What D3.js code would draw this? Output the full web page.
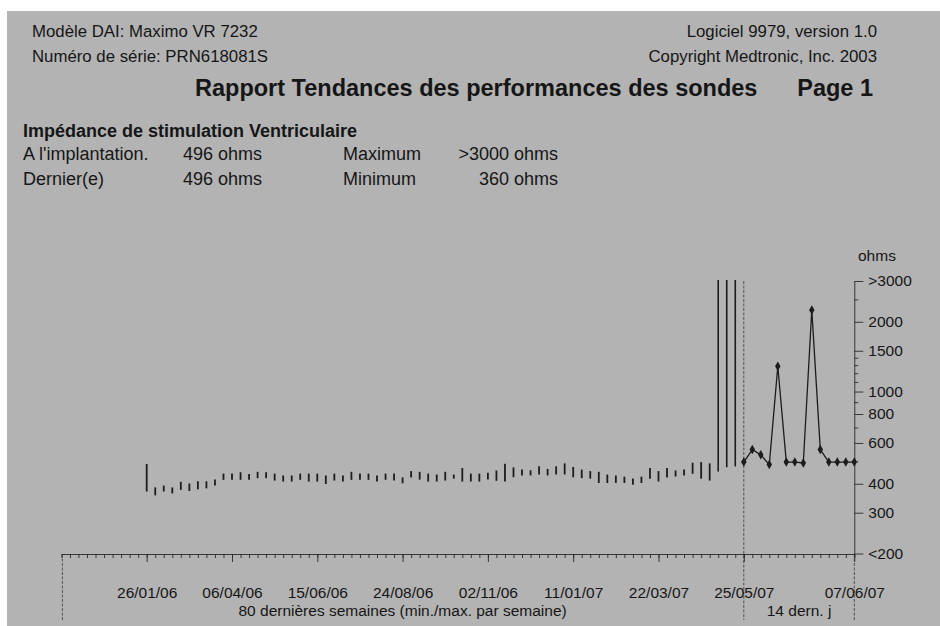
<!DOCTYPE html>
<html>
<head>
<meta charset="UTF-8">
<title>Rapport Tendances des performances des sondes</title>
<script src="https://cdn.jsdelivr.net/npm/d3@7"></script>
<style>
* { margin: 0; padding: 0; }
body { background: #fff; }
svg { display: block; font-family: "Liberation Sans", Arial, sans-serif; }
text { fill: #161616; }
</style>
</head>
<body>
<svg id="chart" width="940" height="626"></svg>
<script>
// impédance min/max par semaine (70 semaines avec données sur 80)
const weekMin = [374, 360, 374, 367, 380, 376, 382, 386, 397, 420,
  420, 420, 420, 427, 427, 417, 413, 413, 420, 413,
  413, 403, 417, 413, 420, 420, 420, 413, 420, 417,
  406, 430, 421, 413, 413, 417, 425, 413, 413, 413,
  421, 416, 413, 431, 439, 439, 443, 439, 443, 443,
  431, 427, 425, 407, 407, 407, 407, 400, 407, 425,
  413, 430, 434, 439, 446, 425, 417, 456, 476, 480];
const weekMax = [482, 382, 389, 382, 404, 397, 406, 406, 413, 438,
  438, 444, 436, 446, 444, 438, 430, 430, 438, 438,
  438, 430, 438, 430, 446, 438, 438, 430, 438, 438,
  422, 449, 446, 438, 434, 446, 434, 463, 438, 438,
  442, 452, 483, 466, 456, 453, 471, 459, 471, 485,
  468, 456, 449, 446, 434, 430, 425, 417, 425, 463,
  449, 463, 452, 456, 488, 491, 485, 3000, 3000, 3000];
// 14 derniers jours
const dayValues = [496, 562, 533, 484, 1286, 496, 496, 492, 2248, 562, 496, 496, 496, 496];

const weekLabels = ["26/01/06", "06/04/06", "15/06/06", "24/08/06", "02/11/06", "11/01/07", "22/03/07"];
const weekLabelAt = [10, 20, 30, 40, 50, 60, 70];
const dayLabels = ["25/05/07", "07/06/07"];
const yMajor = [200, 300, 400, 600, 800, 1000, 1500, 2000, 3000];
const yMajorLabels = ["<200", "300", "400", "600", "800", "1000", "1500", "2000", ">3000"];
const yMinor = [500, 700, 900, 1100, 1200, 1300, 1400, 2500];

const svg = d3.select("#chart");

svg.append("rect").attr("x", 7).attr("y", 11).attr("width", 933).attr("height", 615)
  .attr("fill", "#b3b3b3");

// en-tête
const head = svg.append("g");
head.append("text").attr("x", 32).attr("y", 37).style("font-size", "16.8px")
  .text("Modèle DAI: Maximo VR 7232");
head.append("text").attr("x", 32).attr("y", 62).style("font-size", "16.8px")
  .text("Numéro de série: PRN618081S");
head.append("text").attr("x", 877).attr("y", 37).attr("text-anchor", "end").style("font-size", "16.8px")
  .text("Logiciel 9979, version 1.0");
head.append("text").attr("x", 877).attr("y", 62).attr("text-anchor", "end").style("font-size", "16.8px")
  .text("Copyright Medtronic, Inc. 2003");
head.append("text").attr("x", 195).attr("y", 96).style("font-size", "23.5px").style("font-weight", "bold")
  .text("Rapport Tendances des performances des sondes");
head.append("text").attr("x", 873).attr("y", 96).attr("text-anchor", "end")
  .style("font-size", "23.5px").style("font-weight", "bold").text("Page 1");
head.append("text").attr("x", 23).attr("y", 137).style("font-size", "18px").style("font-weight", "bold")
  .text("Impédance de stimulation Ventriculaire");

const rows = [
  ["A l'implantation.", "496 ohms", "Maximum", ">3000 ohms"],
  ["Dernier(e)", "496 ohms", "Minimum", "360 ohms"]
];
rows.forEach((r, i) => {
  const y = 160 + i * 25;
  head.append("text").attr("x", 23).attr("y", y).style("font-size", "18px").text(r[0]);
  head.append("text").attr("x", 183).attr("y", y).style("font-size", "18px").text(r[1]);
  head.append("text").attr("x", 343).attr("y", y).style("font-size", "18px").text(r[2]);
  head.append("text").attr("x", 558).attr("y", y).attr("text-anchor", "end").style("font-size", "18px").text(r[3]);
});

// échelles
const xWeek = d3.scaleLinear().domain([0, 80]).range([61.4, 743.8]);
const xDay = d3.scaleLinear().domain([0, 13]).range([743.8, 854.3]);
const y = d3.scaleLog().domain([200, 3000]).range([553.5, 281]);
const axisY = 554;

// séparateurs verticaux
const sep = svg.append("g").attr("stroke", "#3a3a3a").attr("stroke-width", 0.8).attr("stroke-dasharray", "3,1.5");
sep.append("line").attr("x1", xWeek(0) + 1).attr("x2", xWeek(0) + 1).attr("y1", axisY).attr("y2", 620);
sep.append("line").attr("x1", xDay(0)).attr("x2", xDay(0)).attr("y1", y(3000)).attr("y2", 620);
sep.append("line").attr("x1", xDay(13)).attr("x2", xDay(13)).attr("y1", axisY).attr("y2", 620);

// axe X semaines
const gxw = svg.append("g").attr("transform", `translate(0,${axisY})`)
  .call(d3.axisBottom(xWeek).tickValues(d3.range(0, 81)).tickSize(4).tickSizeOuter(0).tickFormat(""));
const gxwMaj = svg.append("g").attr("transform", `translate(0,${axisY})`)
  .call(d3.axisBottom(xWeek).tickValues(weekLabelAt).tickSize(8).tickSizeOuter(0)
    .tickFormat((d, i) => weekLabels[i]));
// axe X jours
const gxd = svg.append("g").attr("transform", `translate(0,${axisY})`)
  .call(d3.axisBottom(xDay).tickValues(d3.range(0, 14)).tickSize(4).tickSizeOuter(0).tickFormat(""));
const gxdMaj = svg.append("g").attr("transform", `translate(0,${axisY})`)
  .call(d3.axisBottom(xDay).tickValues([0, 13]).tickSize(8).tickSizeOuter(0)
    .tickFormat((d, i) => dayLabels[i]));
gxwMaj.select(".domain").remove();
gxdMaj.select(".domain").remove();

[gxw, gxwMaj, gxd, gxdMaj].forEach(g => {
  g.selectAll("path, line").attr("stroke", "#2a2a2a").attr("stroke-width", 0.9);
  g.selectAll("text").attr("fill", "#161616").attr("y", 598 - axisY).attr("dy", 0)
    .style("font-size", "15.5px").style("font-family", "Liberation Sans, Arial, sans-serif");
});

svg.append("text").attr("x", (xWeek(0) + xWeek(80)) / 2).attr("y", 616).attr("text-anchor", "middle")
  .style("font-size", "15.5px").text("80 dernières semaines (min./max. par semaine)");
svg.append("text").attr("x", (xDay(0) + xDay(13)) / 2).attr("y", 616).attr("text-anchor", "middle")
  .style("font-size", "15.5px").text("14 dern. j");

// axe Y
const gyMin = svg.append("g").attr("transform", `translate(${xDay(13)},0)`)
  .call(d3.axisRight(y).tickValues(yMinor).tickSize(4).tickSizeOuter(0).tickFormat(""));
const gyMaj = svg.append("g").attr("transform", `translate(${xDay(13)},0)`)
  .call(d3.axisRight(y).tickValues(yMajor).tickSize(9).tickSizeOuter(0)
    .tickFormat((d, i) => yMajorLabels[i]));
gyMaj.select(".domain").remove();
[gyMin, gyMaj].forEach(g => {
  g.selectAll("path, line").attr("stroke", "#2a2a2a").attr("stroke-width", 0.9);
  g.selectAll("text").attr("fill", "#161616").attr("x", 14)
    .style("font-size", "15.5px").style("font-family", "Liberation Sans, Arial, sans-serif");
});
svg.append("text").attr("x", 858).attr("y", 261).style("font-size", "15.5px").text("ohms");

// barres min/max hebdomadaires
const weeks = weekMin.map((m, i) => ({ w: i + 10, min: m, max: weekMax[i] }));
svg.append("g").selectAll("line").data(weeks).join("line")
  .attr("x1", d => xWeek(d.w)).attr("x2", d => xWeek(d.w))
  .attr("y1", d => y(d.max) - 1).attr("y2", d => y(d.min) + 1)
  .attr("stroke", "#1c1c1c")
  .attr("stroke-width", d => d.max >= 3000 ? 1.6 : 1.8);

// 14 derniers jours
const days = dayValues.map((v, i) => ({ d: i, v: v }));
svg.append("path").datum(days)
  .attr("fill", "none").attr("stroke", "#1c1c1c").attr("stroke-width", 1.3)
  .attr("d", d3.line().x(d => xDay(d.d)).y(d => y(d.v)));
svg.append("g").selectAll("path").data(days).join("path")
  .attr("transform", d => `translate(${xDay(d.d)},${y(d.v)})`)
  .attr("d", d3.symbol(d3.symbolDiamond, 26))
  .attr("fill", "#1c1c1c");
</script>
</body>
</html>
